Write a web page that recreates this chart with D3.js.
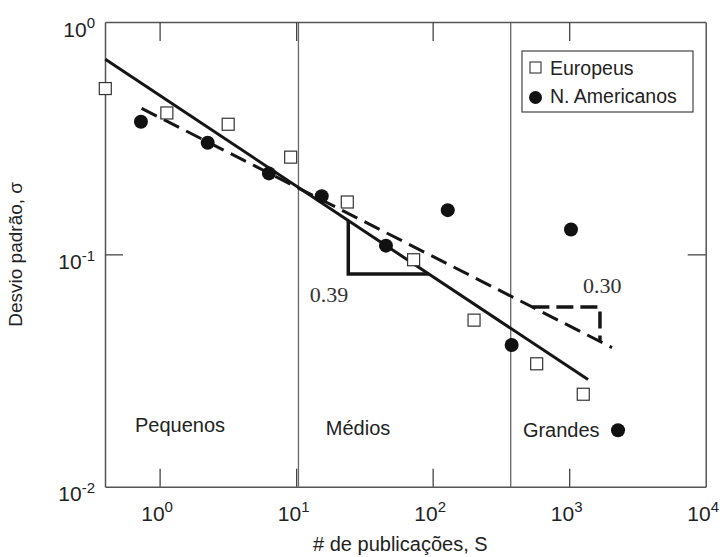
<!DOCTYPE html>
<html><head><meta charset="utf-8">
<script src="https://cdn.jsdelivr.net/npm/d3@7"></script>
<style>body{margin:0;background:#fff}svg{display:block}</style>
</head><body>
<svg id="c" width="724" height="557"></svg>
<script>
// ---- data ----
const xTickExps = [0, 1, 2, 3, 4];
const yTickExps = [0, -1, -2];
const euroS     = [0.40, 1.13, 3.18, 9.12, 23.7, 72.5, 201, 578, 1268];
const euroSigma = [0.517, 0.406, 0.363, 0.262, 0.168, 0.0948, 0.0521, 0.0338, 0.0250];
const naS       = [0.73, 2.25, 6.32, 15.4, 45.5, 129, 379, 1031, 2279];
const naSigma   = [0.372, 0.302, 0.223, 0.178, 0.109, 0.155, 0.0407, 0.128, 0.0175];
const euroFitS = [0.40, 1374],  euroFitSigma = [0.691, 0.0289];   // slope -0.39
const naFitS   = [0.738, 2059], naFitSigma   = [0.425, 0.0397];   // slope -0.30
const regionBounds = [10.4, 373];
const regionNames  = ["Pequenos", "Médios", "Grandes"];
const regionLabelS = [0.66, 16.5, 458];
const regionLabelSigma = [0.0172, 0.0167, 0.0164];
const legendNames = ["Europeus", "N. Americanos"];
const slopeLabels = ["0.39", "0.30"];
const slopeLabelS = [12.6, 1262];
const slopeLabelSigma = [0.0623, 0.0681];
const euroTriS = 24.1, euroTriSigma = 0.0823;
const naTriSigma = 0.0593, naTriS = 1681;

// ---- layout ----
const L = 105, R = 705.7, T = 22, B = 486.7;
const svg = d3.select("#c");
const x = d3.scaleLog().domain([Math.pow(10, -0.4), 1e4]).range([L, R]);
const y = d3.scaleLog().domain([0.01, 1]).range([B, T]);
const sans = "'Liberation Sans', Arial, Helvetica, sans-serif";
const serif = "'Liberation Serif', 'Times New Roman', serif";
const axisCol = "#555";

function styleAxis(g) {
  g.selectAll(".domain").attr("stroke", axisCol).attr("stroke-width", 1.5);
  g.selectAll(".tick line").attr("stroke", "#444").attr("stroke-width", 1.3);
}
function powLabel(sel, exp) {
  sel.text(null);
  sel.append("tspan").text("10");
  sel.append("tspan").attr("dy", "-0.55em").attr("font-size", 15).text(String(exp));
}

// region dividers
svg.append("g").selectAll("line").data(regionBounds).join("line")
  .attr("x1", d => x(d)).attr("x2", d => x(d)).attr("y1", T).attr("y2", B)
  .attr("stroke", "#666").attr("stroke-width", 1.3);

// bottom axis
const xb = svg.append("g").attr("transform", `translate(0,${B})`)
  .call(d3.axisBottom(x).tickValues(xTickExps.map(e => Math.pow(10, e))).tickSizeInner(-18).tickSizeOuter(0));
styleAxis(xb);
xb.selectAll(".tick text").attr("y", 34).attr("dy", null).attr("dx", -3)
  .attr("fill", "#222").attr("font-family", sans).attr("font-size", 21)
  .each(function(d, i) { powLabel(d3.select(this), xTickExps[i]); });
xb.selectAll(".tick").filter(d => d >= 1e4).select("line").remove();

// top axis
const xt = svg.append("g").attr("transform", `translate(0,${T})`)
  .call(d3.axisTop(x).tickValues(xTickExps.slice(0, 4).map(e => Math.pow(10, e))).tickSizeInner(-19).tickSizeOuter(0).tickFormat(""));
styleAxis(xt);

// left axis
const yl = svg.append("g").attr("transform", `translate(${L},0)`)
  .call(d3.axisLeft(y).tickValues(yTickExps.map(e => Math.pow(10, e))).tickSizeInner(-18).tickSizeOuter(0));
styleAxis(yl);
yl.selectAll(".tick text").attr("x", -10).attr("dy", 14).attr("text-anchor", "end")
  .attr("fill", "#222").attr("font-family", sans).attr("font-size", 21)
  .each(function(d, i) { powLabel(d3.select(this), yTickExps[i]); });
yl.selectAll(".tick").filter(d => d >= 1 || d <= 0.01).select("line").remove();

// right axis
const yr = svg.append("g").attr("transform", `translate(${R},0)`)
  .call(d3.axisRight(y).tickValues([0.1]).tickSizeInner(-18).tickSizeOuter(0).tickFormat(""));
styleAxis(yr);

// axis titles
svg.append("text").attr("x", (L + R) / 2 - 5).attr("y", 551).attr("text-anchor", "middle")
  .attr("font-family", sans).attr("font-size", 20).attr("fill", "#222").text("# de publicações, S");
svg.append("text").attr("transform", `translate(22,${(T + B) / 2}) rotate(-90)`).attr("text-anchor", "middle")
  .attr("font-family", sans).attr("font-size", 19).attr("fill", "#222").text("Desvio padrão, σ");

// fit lines
const line = d3.line().x(d => x(d[0])).y(d => y(d[1]));
svg.append("path").datum(d3.zip(euroFitS, euroFitSigma)).attr("d", line)
  .attr("fill", "none").attr("stroke", "#151515").attr("stroke-width", 3);
svg.append("path").datum(d3.zip(naFitS, naFitSigma)).attr("d", line)
  .attr("fill", "none").attr("stroke", "#151515").attr("stroke-width", 3).attr("stroke-dasharray", "17,8");

function fitAt(S, fs, fsig) {
  const t = (Math.log10(S) - Math.log10(fs[0])) / (Math.log10(fs[1]) - Math.log10(fs[0]));
  return Math.pow(10, Math.log10(fsig[0]) + t * (Math.log10(fsig[1]) - Math.log10(fsig[0])));
}
function fitInv(sig, fs, fsig) {
  const t = (Math.log10(sig) - Math.log10(fsig[0])) / (Math.log10(fsig[1]) - Math.log10(fsig[0]));
  return Math.pow(10, Math.log10(fs[0]) + t * (Math.log10(fs[1]) - Math.log10(fs[0])));
}
// slope triangle 0.39
const tri1 = [[euroTriS, fitAt(euroTriS, euroFitS, euroFitSigma)], [euroTriS, euroTriSigma],
              [fitInv(euroTriSigma, euroFitS, euroFitSigma), euroTriSigma]];
svg.append("path").datum(tri1).attr("d", line).attr("fill", "none")
  .attr("stroke", "#151515").attr("stroke-width", 3.5);
// slope bracket 0.30
const tri2 = [[fitInv(naTriSigma, naFitS, naFitSigma), naTriSigma], [naTriS, naTriSigma],
              [naTriS, fitAt(naTriS, naFitS, naFitSigma)]];
svg.append("path").datum(tri2).attr("d", line).attr("fill", "none")
  .attr("stroke", "#151515").attr("stroke-width", 3.5).attr("stroke-dasharray", "17,7");

svg.append("g").selectAll("text").data(slopeLabels).join("text")
  .attr("x", (d, i) => x(slopeLabelS[i])).attr("y", (d, i) => y(slopeLabelSigma[i]))
  .attr("font-family", serif).attr("font-size", 22).attr("fill", "#333").text(d => d);

// region labels
svg.append("g").selectAll("text").data(regionNames).join("text")
  .attr("x", (d, i) => x(regionLabelS[i])).attr("y", (d, i) => y(regionLabelSigma[i]))
  .attr("font-family", sans).attr("font-size", 20).attr("fill", "#222").text(d => d);

// markers
const sq = 12;
svg.append("g").selectAll("rect").data(d3.zip(euroS, euroSigma)).join("rect")
  .attr("x", d => x(d[0]) - sq / 2).attr("y", d => y(d[1]) - sq / 2)
  .attr("width", sq).attr("height", sq)
  .attr("fill", "#fff").attr("stroke", "#333").attr("stroke-width", 1.2);
svg.append("g").selectAll("circle").data(d3.zip(naS, naSigma)).join("circle")
  .attr("cx", d => x(d[0])).attr("cy", d => y(d[1])).attr("r", 7).attr("fill", "#111");

// legend
const lg = svg.append("g");
lg.append("rect").attr("x", 522).attr("y", 51).attr("width", 171).attr("height", 61)
  .attr("fill", "#fff").attr("stroke", "#444").attr("stroke-width", 1.2);
lg.append("rect").attr("x", 530).attr("y", 62).attr("width", 11).attr("height", 11)
  .attr("fill", "#fff").attr("stroke", "#333").attr("stroke-width", 1.1);
lg.append("circle").attr("cx", 535.5).attr("cy", 97.5).attr("r", 6.5).attr("fill", "#111");
lg.selectAll("text").data(legendNames).join("text")
  .attr("x", 550).attr("y", (d, i) => 75 + i * 27.5)
  .attr("font-family", sans).attr("font-size", 19.5).attr("fill", "#222").text(d => d);
</script>
</body></html>
